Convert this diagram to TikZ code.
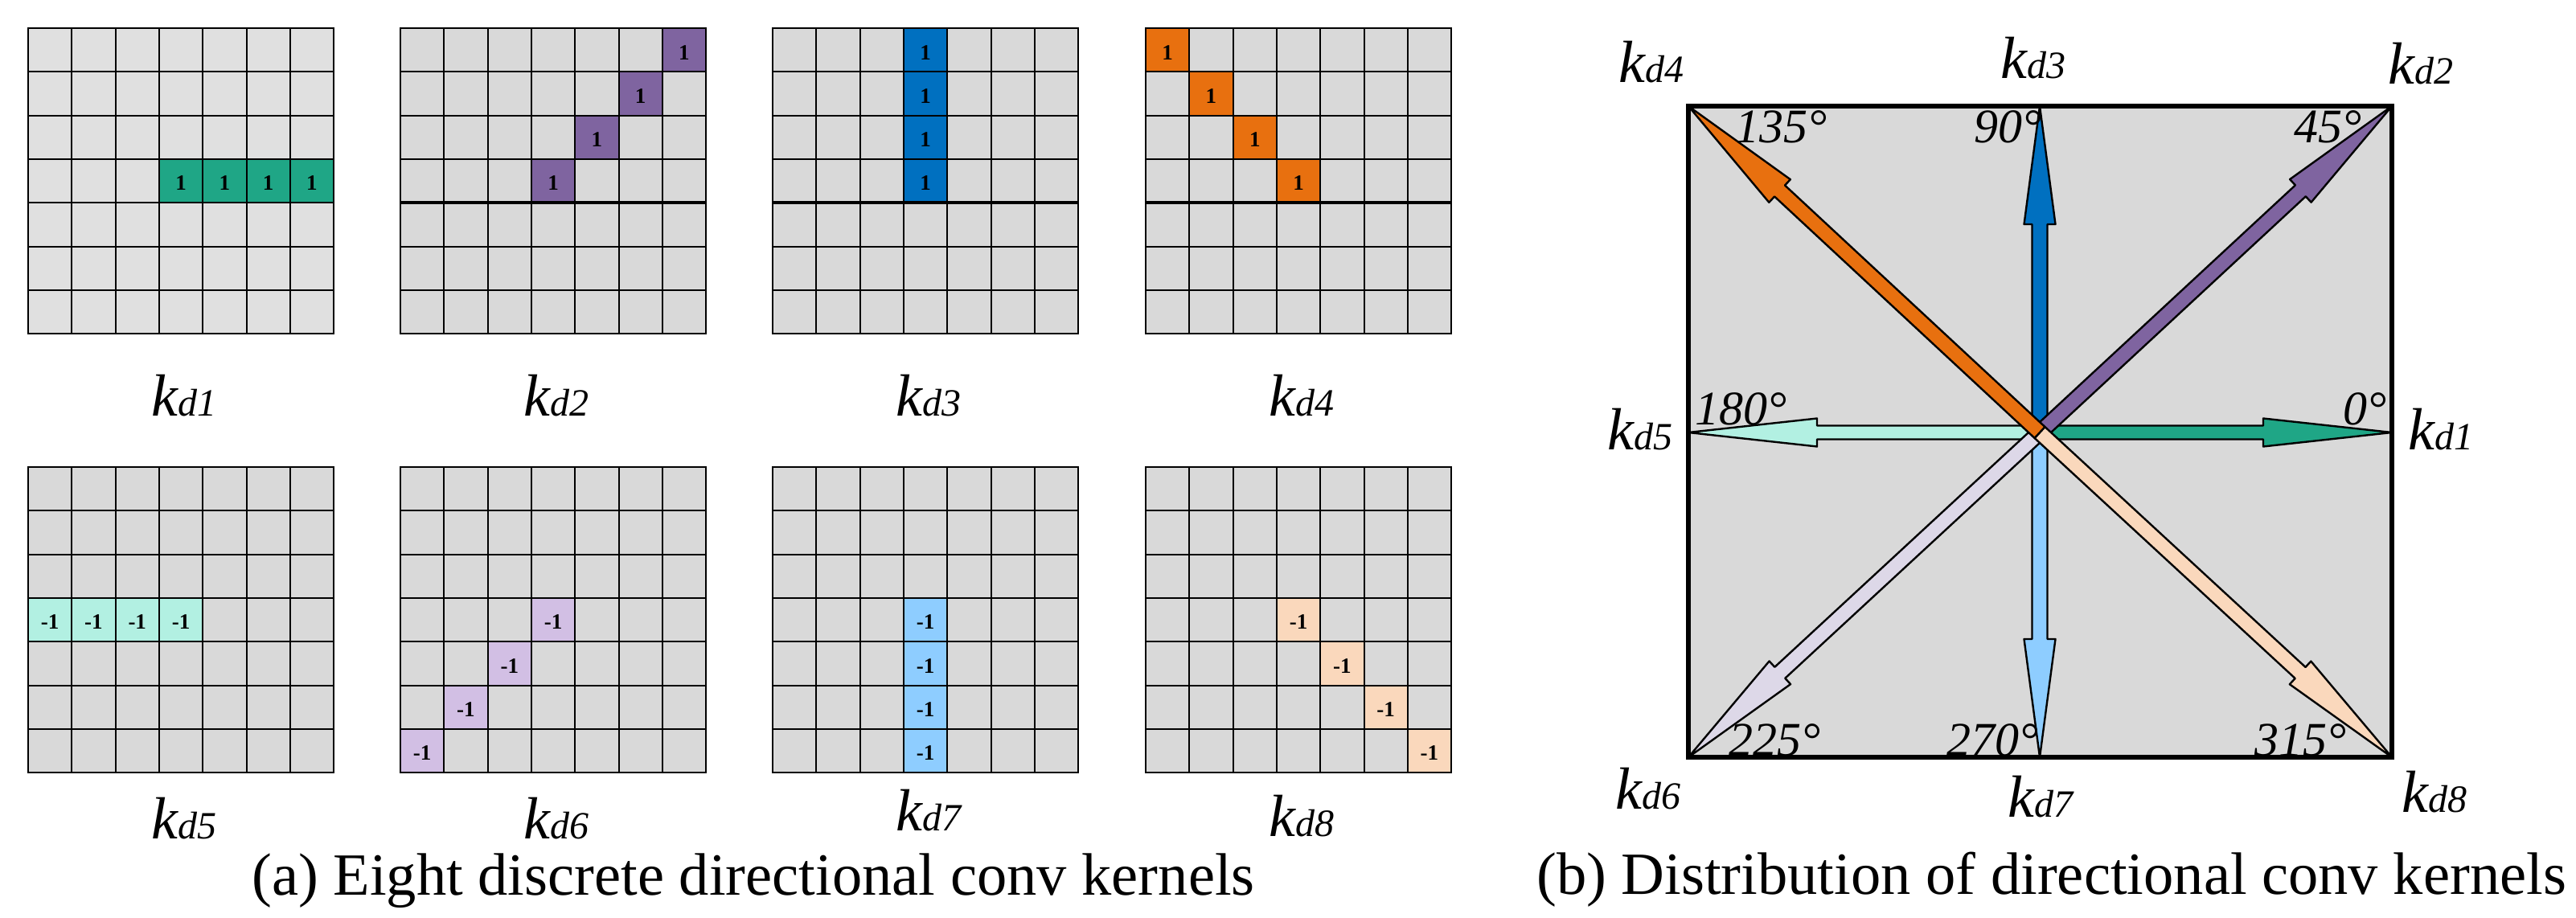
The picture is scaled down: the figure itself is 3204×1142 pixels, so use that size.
\documentclass[tikz,border=0pt]{standalone}
\usepackage{fontspec}
\setmainfont{Liberation Serif}
\usetikzlibrary{calc}
\definecolor{cgreen}{HTML}{1FA686}
\definecolor{cpurple}{HTML}{7F64A0}
\definecolor{cblue}{HTML}{0070C0}
\definecolor{corange}{HTML}{E8700F}
\definecolor{cmint}{HTML}{B2F0E2}
\definecolor{clav}{HTML}{D2BFE4}
\definecolor{clavarr}{HTML}{DDD8E8}
\definecolor{clblue}{HTML}{8ECDFF}
\definecolor{cpeach}{HTML}{FAD8BC}
\definecolor{gbg}{HTML}{D9D9D9}
\definecolor{gbgl}{HTML}{E0E0E0}
\tikzset{
  gridln/.style={line width=2pt, black, line cap=rect},
  thickln/.style={line width=3.6pt, black},
  arrln/.style={line width=2.4pt, black, line join=round},
  cellnum/.style={font=\fontsize{27}{30}\selectfont\bfseries, inner sep=0pt},
  klabel/.style={font=\fontsize{74}{80}\selectfont, anchor=base, inner sep=0pt},
  deg/.style={font=\fontsize{60}{66}\selectfont\itshape, inner sep=0pt},
  captxt/.style={font=\fontsize{74.5}{80}\selectfont, anchor=base west, inner sep=0pt},
  panel/.style={line width=6pt, black, fill=gbg},
}
\newcommand\kk[1]{{\itshape k\kern1pt{\fontsize{48}{50}\selectfont d#1}}}
% cell: name, x0, y0, row, col, color, text
\newcommand\kcell[7]{%
  \fill[#6] ({#2+#5*54.3},{#3+#4*54.3}) rectangle ++(54.3,54.3);
  \node[cellnum] (#1) at ({#2+(#5+0.5)*54.3},{#3+(#4+0.5)*54.3+3}) {#7};
}
\newcommand\klines[2]{%
  \foreach \i in {0,...,7} {
    \draw[gridln] ({#1+\i*54.3},#2) -- ({#1+\i*54.3},{#2+380.1});
    \draw[gridln] (#1,{#2+\i*54.3}) -- ({#1+380.1},{#2+\i*54.3});
  }
}
% block arrow: name, colour, tail, tip, shaft half, head half, head length
\newcommand\barrow[7]{%
  \coordinate (#1b) at ($(#4)!#7!(#3)$);
  \draw[arrln, fill=#2] ($(#3)!#5!90:(#4)$) -- ($(#1b)!#5!90:(#4)$) -- ($(#1b)!#6!90:(#4)$) -- (#4)
    -- ($(#1b)!#6!-90:(#4)$) -- ($(#1b)!#5!-90:(#4)$) -- ($(#3)!#5!-90:(#4)$) -- cycle;
}
\begin{document}
\begin{tikzpicture}[x=1pt,y=-1pt]
\useasboundingbox (0,0) rectangle (3204,1142);
\fill[white] (0,0) rectangle (3204,1142);

% ---------- (a) kernels ----------
% kd1
\fill[gbgl] (35,35) rectangle ++(380,380);
\foreach \c [count=\n] in {3,4,5,6} { \kcell{a\n}{35}{35}{3}{\c}{cgreen}{1} }
\klines{35}{35}
% kd2
\fill[gbg] (498,35) rectangle ++(380,380);
\kcell{b1}{498}{35}{0}{6}{cpurple}{1}
\kcell{b2}{498}{35}{1}{5}{cpurple}{1}
\kcell{b3}{498}{35}{2}{4}{cpurple}{1}
\kcell{b4}{498}{35}{3}{3}{cpurple}{1}
\klines{498}{35}
\draw[thickln] (498,252.2) -- (878,252.2);
% kd3
\fill[gbg] (961,35) rectangle ++(380,380);
\foreach \r [count=\n] in {0,1,2,3} { \kcell{c\n}{961}{35}{\r}{3}{cblue}{1} }
\klines{961}{35}
\draw[thickln] (961,252.2) -- (1341,252.2);
% kd4
\fill[gbg] (1425,35) rectangle ++(380,380);
\foreach \r [count=\n] in {0,1,2,3} { \kcell{d\n}{1425}{35}{\r}{\r}{corange}{1} }
\klines{1425}{35}
\draw[thickln] (1425,252.2) -- (1805,252.2);
% kd5
\fill[gbg] (35,581) rectangle ++(380,380);
\foreach \c [count=\n] in {0,1,2,3} { \kcell{e\n}{35}{581}{3}{\c}{cmint}{-1} }
\klines{35}{581}
% kd6
\fill[gbg] (498,581) rectangle ++(380,380);
\kcell{f1}{498}{581}{3}{3}{clav}{-1}
\kcell{f2}{498}{581}{4}{2}{clav}{-1}
\kcell{f3}{498}{581}{5}{1}{clav}{-1}
\kcell{f4}{498}{581}{6}{0}{clav}{-1}
\klines{498}{581}
% kd7
\fill[gbg] (961,581) rectangle ++(380,380);
\foreach \r [count=\n] in {3,4,5,6} { \kcell{g\n}{961}{581}{\r}{3}{clblue}{-1} }
\klines{961}{581}
% kd8
\fill[gbg] (1425,581) rectangle ++(380,380);
\foreach \r [count=\n] in {3,4,5,6} { \kcell{h\n}{1425}{581}{\r}{\r}{cpeach}{-1} }
\klines{1425}{581}

% labels under kernels
\node[klabel] (la1) at (229,517) {\kk{1}};
\node[klabel] (la2) at (692,517) {\kk{2}};
\node[klabel] (la3) at (1155,517) {\kk{3}};
\node[klabel] (la4) at (1619,517) {\kk{4}};
\node[klabel] (la5) at (229,1043) {\kk{5}};
\node[klabel] (la6) at (692,1043) {\kk{6}};
\node[klabel] (la7) at (1155,1033) {\kk{7}};
\node[klabel] (la8) at (1619,1040) {\kk{8}};

\node[captxt] (capa) at (313,1113) {(a) Eight discrete directional conv kernels};

% ---------- (b) distribution ----------
\draw[panel] (2100,132) rectangle (2975,942);
\coordinate (O) at (2537,538);
\coordinate (E) at (2975,538);
\coordinate (NE) at (2975,132);
\coordinate (N) at (2537,132);
\coordinate (NW) at (2100,132);
\coordinate (W) at (2100,538);
\coordinate (SW) at (2100,942);
\coordinate (S) at (2537,942);
\coordinate (SE) at (2975,942);

\barrow{a7}{clblue}{O}{S}{9.5pt}{19.5pt}{147pt}
\barrow{a3}{cblue}{O}{N}{9.5pt}{19.5pt}{147pt}
\barrow{a5}{cmint}{O}{W}{8.5pt}{17.5pt}{160pt}
\barrow{a1}{cgreen}{O}{E}{8.5pt}{17.5pt}{160pt}
\barrow{a6}{clavarr}{O}{SW}{9.5pt}{19.5pt}{155pt}
\barrow{a2}{cpurple}{O}{NE}{9.5pt}{19.5pt}{155pt}
\barrow{a8}{cpeach}{O}{SE}{9.5pt}{19.5pt}{155pt}
\barrow{a4}{corange}{O}{NW}{9.5pt}{19.5pt}{155pt}

\node[deg, anchor=base west] (g135) at (2158,178) {135°};
\node[deg, anchor=base east] (g90) at (2540,178) {90°};
\node[deg, anchor=base east] (g45) at (2938,178) {45°};
\node[deg, anchor=base west] (g180) at (2108,528) {180°};
\node[deg, anchor=base east] (g0) at (2969,528) {0°};
\node[deg, anchor=base west] (g225) at (2150,940) {225°};
\node[deg, anchor=base east] (g270) at (2536,940) {270°};
\node[deg, anchor=base east] (g315) at (2919,940) {315°};

\node[klabel] (r4) at (2054,103) {\kk{4}};
\node[klabel] (r3) at (2529,98) {\kk{3}};
\node[klabel] (r2) at (3011,105) {\kk{2}};
\node[klabel] (r5) at (2040,559) {\kk{5}};
\node[klabel] (r1) at (3036,559) {\kk{1}};
\node[klabel] (r6) at (2050,1006) {\kk{6}};
\node[klabel] (r7) at (2538,1016) {\kk{7}};
\node[klabel] (r8) at (3028,1010) {\kk{8}};

\node[captxt] (capb) at (1911,1112) {(b) Distribution of directional conv kernels};
\end{tikzpicture}
\end{document}
